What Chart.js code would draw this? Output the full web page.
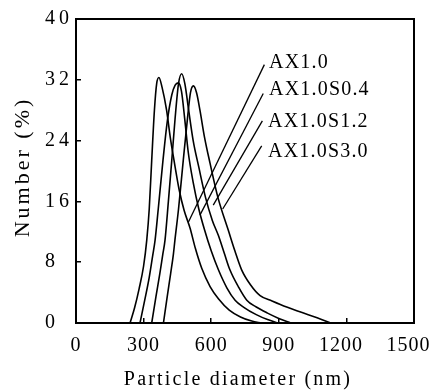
<!DOCTYPE html>
<html>
<head>
<meta charset="utf-8">
<script src="https://cdn.jsdelivr.net/npm/chart.js@4.4.1/dist/chart.umd.min.js"></script>
<style>
  html, body { margin: 0; padding: 0; background: #fff; }
</style>
</head>
<body>
<canvas id="psd" width="433" height="392"></canvas>
<script>
// particle size distributions
const seriesNames = ["AX1.0", "AX1.0S0.4", "AX1.0S1.2", "AX1.0S3.0"];

const ax10D = [240, 260, 280, 300, 314, 325, 336, 348, 358, 368, 382, 402, 418, 435, 458, 480, 506, 530, 558, 595, 632, 680, 730, 780, 824];
const ax10N = [0, 2, 4.5, 7.5, 10.9, 15, 21.4, 28, 31.5, 32.3, 31, 28, 24.5, 21.4, 17.5, 14.8, 12.5, 9.8, 7.2, 4.8, 3.2, 1.7, 0.8, 0.25, 0];

const s04D = [284, 305, 325, 340, 351, 365, 386, 405, 425, 440, 454, 468, 482, 498, 520, 545, 570, 600, 632, 670, 706, 743, 800, 850, 898];
const s04N = [0, 3, 6, 8.8, 10.9, 15, 21.4, 26.5, 30, 31.3, 31.6, 30.5, 27, 22.5, 18.5, 15, 12.3, 9.5, 7, 4.6, 3, 2.1, 1.1, 0.45, 0];

const s12D = [336, 355, 372, 385, 395, 410, 425, 440, 455, 469, 483, 500, 520, 545, 575, 605, 632, 660, 683, 720, 758, 800, 850, 900, 953];
const s12N = [0, 3.5, 6.5, 9, 10.9, 16, 21.4, 27, 31.5, 32.8, 31.5, 28, 24, 20.5, 16.5, 13.5, 11.5, 9, 7, 4.8, 3, 2.1, 1.3, 0.6, 0];

const s30D = [388, 405, 420, 432, 439, 455, 476, 495, 508, 521, 535, 550, 570, 595, 630, 676, 705, 735, 775, 817, 870, 935, 1000, 1070, 1130];
const s30N = [0, 3.5, 6.5, 9, 10.9, 15, 21.4, 27, 30.3, 31.2, 30.3, 28, 24.5, 21, 16.5, 12.2, 9.5, 7, 5, 3.6, 2.9, 2.1, 1.4, 0.7, 0];

// leader lines from each curve to its label: [start, end]
const leaderD = [[499, 836], [550, 831], [609, 827], [651, 824]];
const leaderN = [[13.3, 34.0], [14.2, 30.2], [15.5, 26.6], [15.0, 23.3]];

const xTicks = [0, 300, 600, 900, 1200, 1500];
const yTicks = [0, 8, 16, 24, 32, 40];

const serif = "'Liberation Serif', 'Times New Roman', serif";

function toPoints(xs, ys) {
  return xs.map((x, i) => ({ x: x, y: ys[i] }));
}

const curves = [[ax10D, ax10N], [s04D, s04N], [s12D, s12N], [s30D, s30N]];

const datasets = curves.map((c, i) => ({
  label: seriesNames[i],
  data: toPoints(c[0], c[1]),
  showLine: true,
  borderColor: "#000",
  borderWidth: 1.6,
  pointRadius: 0,
  cubicInterpolationMode: "monotone",
  tension: 0.4,
  fill: false,
}));

leaderD.forEach((d, i) => {
  datasets.push({
    label: "leader " + seriesNames[i],
    data: toPoints(d, leaderN[i]),
    showLine: true,
    borderColor: "#000",
    borderWidth: 1.3,
    pointRadius: 0,
    tension: 0,
    fill: false,
  });
});

// box, axis titles and curve labels
const decorations = {
  id: "decorations",
  beforeDraw(chart) {
    chart.ctx.letterSpacing = "1px"; // x tick labels
  },
  afterDatasetsDraw(chart) {
    chart.ctx.letterSpacing = "4px"; // y tick labels (drawn with z: 1)
  },
  afterDraw(chart, args, opts) {
    const ctx = chart.ctx;
    const a = chart.chartArea;
    ctx.save();
    ctx.letterSpacing = "0px";
    ctx.strokeStyle = "#000";
    ctx.lineWidth = 2;
    ctx.strokeRect(a.left, a.top, a.right - a.left, a.bottom - a.top);

    ctx.fillStyle = "#000";
    ctx.font = "20px " + serif;
    ctx.textAlign = "left";
    ctx.textBaseline = "middle";
    ctx.letterSpacing = "1.2px";
    opts.labelPos.forEach((p, i) => ctx.fillText(seriesNames[i], p[0], p[1]));

    ctx.textAlign = "center";
    ctx.textBaseline = "alphabetic";
    ctx.letterSpacing = "2.2px";
    ctx.fillText("Particle diameter (nm)", opts.xTitle[0], opts.xTitle[1]);

    ctx.font = "22px " + serif;
    ctx.letterSpacing = "3px";
    ctx.translate(opts.yTitle[0], opts.yTitle[1]);
    ctx.rotate(-Math.PI / 2);
    ctx.fillText("Number (%)", 0, 0);
    ctx.restore();
    ctx.letterSpacing = "0px";
  },
};

new Chart(document.getElementById("psd").getContext("2d"), {
  type: "scatter",
  data: { datasets: datasets },
  options: {
    responsive: false,
    animation: false,
    events: [],
    layout: { padding: { left: 45, right: 19, top: 19, bottom: 0 } },
    plugins: {
      legend: { display: false },
      tooltip: { enabled: false },
      decorations: {
        labelPos: [[269, 63], [269, 90], [268, 122], [268, 152]],
        xTitle: [238, 385],
        yTitle: [29, 167],
      },
    },
    scales: {
      x: {
        type: "linear",
        min: xTicks[0],
        max: xTicks[xTicks.length - 1],
        afterBuildTicks: (s) => { s.ticks = xTicks.map((v) => ({ value: v })); },
        afterFit: (s) => { s.height = 69; s.paddingLeft = 0; s.paddingRight = 0; },
        border: { display: false },
        grid: { drawOnChartArea: false, drawTicks: true, tickLength: -5, color: "#000", lineWidth: 1.5 },
        ticks: {
          color: "#000", font: { family: serif, size: 20 }, padding: 16, maxRotation: 0,
          // the four-digit labels sit a little left of their ticks in the original
          callback: (v) => (v >= 1200 ? v + "\u2002" : String(v)),
        },
      },
      y: {
        type: "linear",
        min: yTicks[0],
        max: yTicks[yTicks.length - 1],
        afterBuildTicks: (s) => { s.ticks = yTicks.map((v) => ({ value: v })); },
        afterFit: (s) => { s.width = 31; s.paddingTop = 0; s.paddingBottom = 0; },
        border: { display: false },
        grid: { drawOnChartArea: false, drawTicks: true, tickLength: -5, color: "#000", lineWidth: 1.5 },
        ticks: { color: "#000", font: { family: serif, size: 20 }, crossAlign: "far", z: 1, callback: (v) => String(v) },
      },
    },
  },
  plugins: [decorations],
});
</script>
</body>
</html>
